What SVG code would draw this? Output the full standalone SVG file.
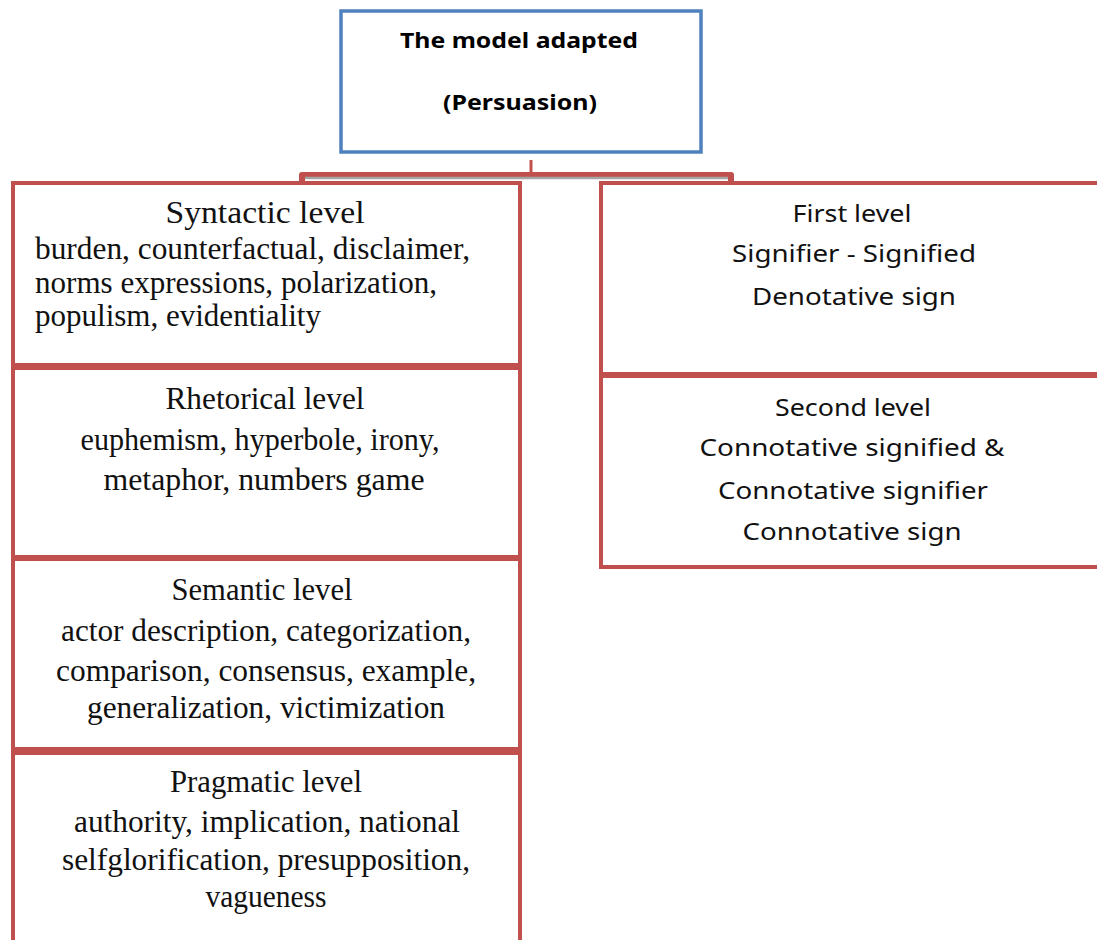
<svg xmlns="http://www.w3.org/2000/svg" width="1097" height="940" viewBox="0 0 1097 940">
<style>
.bg{fill:#ffffff}
.red{fill:#ffffff;stroke:#C0504D;stroke-width:4}
.blue{fill:#ffffff;stroke:#4F81BD;stroke-width:3.5}
.ser{font-family:"Liberation Serif","Times New Roman",serif;font-size:31px;fill:#111}
.san{font-family:"Noto Sans","DejaVu Sans",sans-serif;font-size:24px;fill:#111}
.bold{font-family:"Noto Sans","DejaVu Sans",sans-serif;font-size:22px;font-weight:bold;fill:#000}
.c{text-anchor:middle}
</style>
<rect class="bg" x="0" y="0" width="1097" height="940"/>
<g id="connectors">
<line x1="531" y1="160" x2="531" y2="175" stroke="#C0504D" stroke-width="3"/>
<path d="M302,184 V175 H731 V184" fill="none" stroke="#C0504D" stroke-width="6" stroke-linejoin="round"/>
<line x1="305" y1="178" x2="728" y2="178" stroke="#A5A5A5" stroke-width="2.5"/>
</g>
<g id="root">
<rect class="blue" x="341" y="11" width="360" height="141"/>
<text class="bold c" x="519" y="48" textLength="238" lengthAdjust="spacingAndGlyphs">The model adapted</text>
<text class="bold c" x="520" y="110" textLength="154" lengthAdjust="spacingAndGlyphs">(Persuasion)</text>
</g>
<g id="syntactic">
<rect class="red" x="13" y="183" width="507" height="182"/>
<text class="ser c" x="265" y="223" textLength="199" lengthAdjust="spacingAndGlyphs">Syntactic  level</text>
<text class="ser" x="35" y="259" textLength="435" lengthAdjust="spacingAndGlyphs">burden, counterfactual,  disclaimer,</text>
<text class="ser" x="35" y="293" textLength="402" lengthAdjust="spacingAndGlyphs">norms  expressions,  polarization,</text>
<text class="ser" x="35" y="326" textLength="286" lengthAdjust="spacingAndGlyphs">populism,  evidentiality</text>
</g>
<g id="rhetorical">
<rect class="red" x="13" y="368" width="507" height="189"/>
<text class="ser c" x="265" y="409" textLength="199" lengthAdjust="spacingAndGlyphs">Rhetorical  level</text>
<text class="ser c" x="260" y="450" textLength="359" lengthAdjust="spacingAndGlyphs">euphemism,  hyperbole, irony,</text>
<text class="ser c" x="264" y="490" textLength="321" lengthAdjust="spacingAndGlyphs">metaphor, numbers  game</text>
</g>
<g id="semantic">
<rect class="red" x="13" y="559" width="507" height="190"/>
<text class="ser c" x="262" y="600" textLength="181" lengthAdjust="spacingAndGlyphs">Semantic  level</text>
<text class="ser c" x="266" y="641" textLength="410" lengthAdjust="spacingAndGlyphs">actor description,  categorization,</text>
<text class="ser c" x="266" y="681" textLength="420" lengthAdjust="spacingAndGlyphs">comparison,  consensus,  example,</text>
<text class="ser c" x="266" y="718" textLength="358" lengthAdjust="spacingAndGlyphs">generalization,  victimization</text>
</g>
<g id="pragmatic">
<rect class="red" x="13" y="753" width="507" height="200"/>
<text class="ser c" x="266" y="792" textLength="192" lengthAdjust="spacingAndGlyphs">Pragmatic  level</text>
<text class="ser c" x="267" y="832" textLength="386" lengthAdjust="spacingAndGlyphs">authority,  implication,  national</text>
<text class="ser c" x="266" y="870" textLength="408" lengthAdjust="spacingAndGlyphs">selfglorification,  presupposition,</text>
<text class="ser c" x="266" y="907" textLength="121" lengthAdjust="spacingAndGlyphs">vagueness</text>
</g>
<g id="first-level">
<rect class="red" x="601" y="183" width="520" height="191"/>
<text class="san c" x="852" y="222" textLength="119" lengthAdjust="spacingAndGlyphs">First level</text>
<text class="san c" x="854" y="262" textLength="244" lengthAdjust="spacingAndGlyphs">Signifier  - Signified</text>
<text class="san c" x="854" y="305" textLength="204" lengthAdjust="spacingAndGlyphs">Denotative sign</text>
</g>
<g id="second-level">
<rect class="red" x="601" y="376" width="520" height="191"/>
<text class="san c" x="853" y="416" textLength="156" lengthAdjust="spacingAndGlyphs">Second level</text>
<text class="san c" x="852" y="456" textLength="305" lengthAdjust="spacingAndGlyphs">Connotative signified &amp;</text>
<text class="san c" x="853" y="499" textLength="270" lengthAdjust="spacingAndGlyphs">Connotative signifier</text>
<text class="san c" x="852" y="540" textLength="219" lengthAdjust="spacingAndGlyphs">Connotative sign</text>
</g>
</svg>
